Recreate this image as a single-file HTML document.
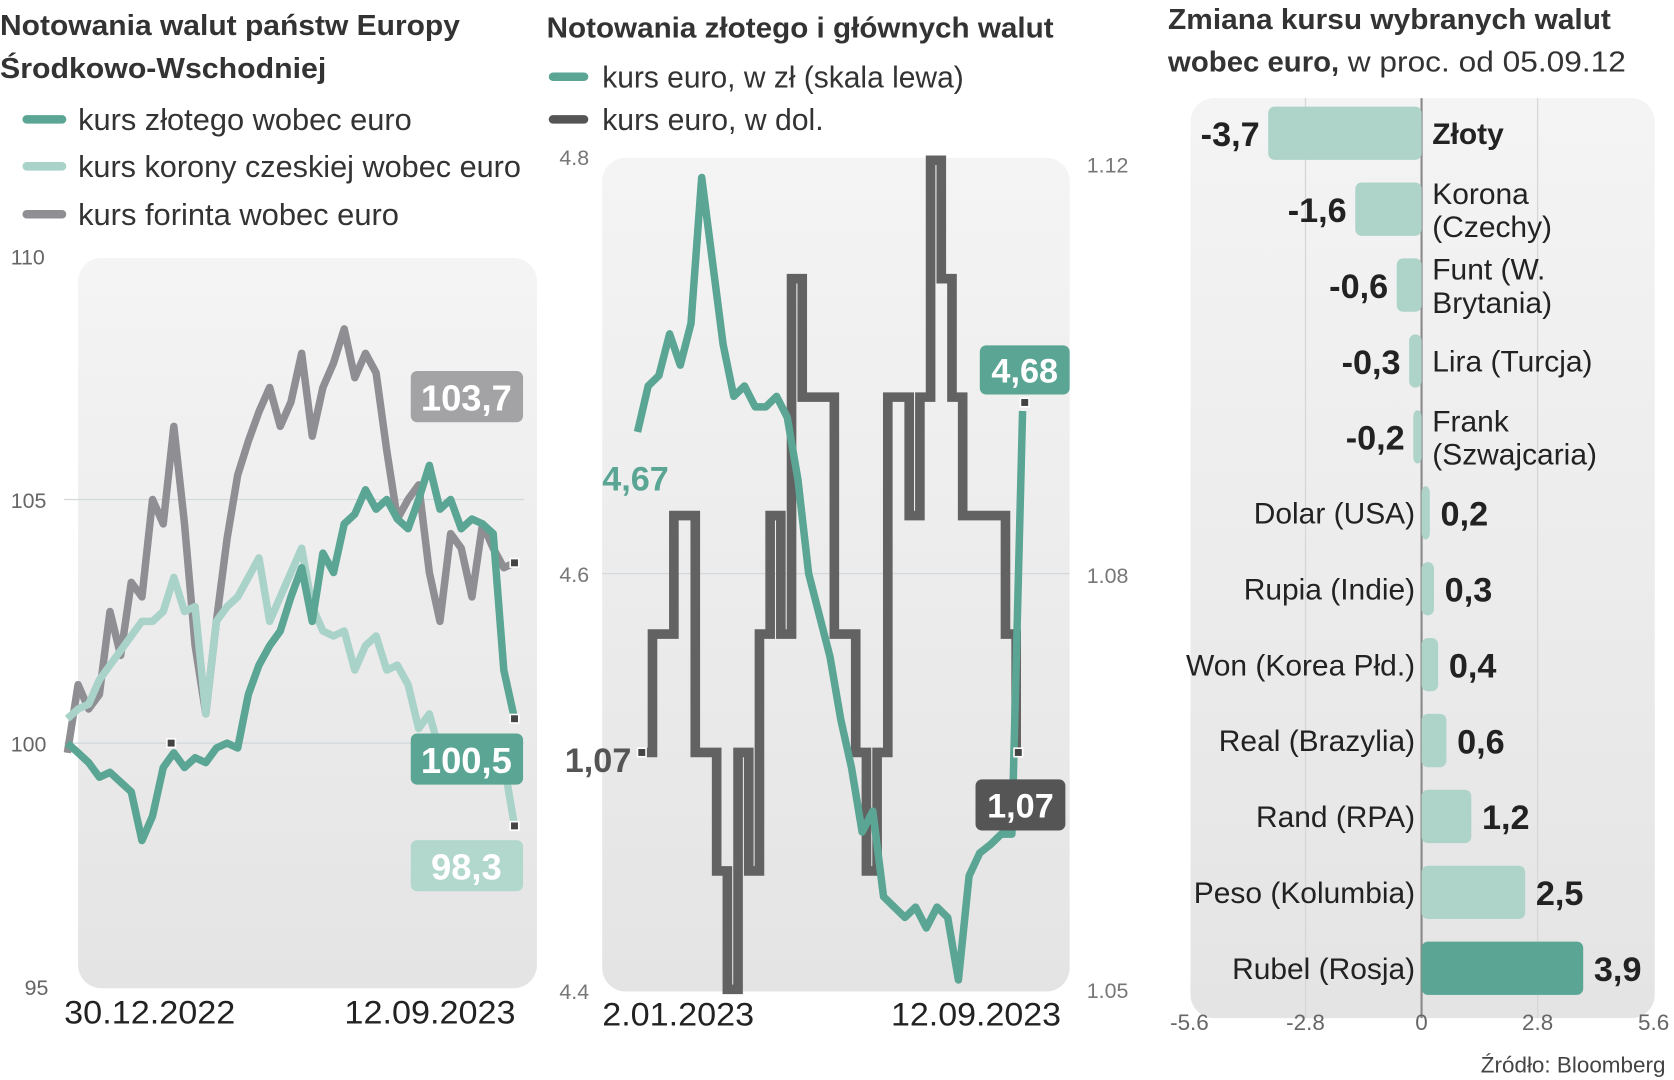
<!DOCTYPE html>
<html><head><meta charset="utf-8"><style>
html,body{margin:0;padding:0;background:#fff;}
svg{display:block;font-family:"Liberation Sans",sans-serif;}
</style></head><body>
<svg id="chart" width="1674" height="1080" viewBox="0 0 1565 1013" preserveAspectRatio="none" xmlns="http://www.w3.org/2000/svg">
<defs>
<linearGradient id="bg" x1="0" y1="0" x2="0" y2="1"><stop offset="0" stop-color="#f4f4f4"/><stop offset="1" stop-color="#e4e4e4"/></linearGradient>
</defs>
<!-- Panel 1 -->
<g>
<text x="0" y="33" font-size="27" font-weight="bold" fill="#333" textLength="430" lengthAdjust="spacingAndGlyphs">Notowania walut państw Europy</text>
<text x="0" y="73" font-size="27" font-weight="bold" fill="#333" textLength="305" lengthAdjust="spacingAndGlyphs">Środkowo-Wschodniej</text>
<g><line x1="25" y1="112" x2="58" y2="112" stroke="#5aa593" stroke-width="8" stroke-linecap="round"/><text x="73" y="122" font-size="29" fill="#333" textLength="312" lengthAdjust="spacingAndGlyphs">kurs złotego wobec euro</text></g>
<g><line x1="25" y1="156" x2="58" y2="156" stroke="#a9d3c8" stroke-width="8" stroke-linecap="round"/><text x="73" y="166" font-size="29" fill="#333" textLength="414" lengthAdjust="spacingAndGlyphs">kurs korony czeskiej wobec euro</text></g>
<g><line x1="25" y1="201" x2="58" y2="201" stroke="#8e8e93" stroke-width="8" stroke-linecap="round"/><text x="73" y="211" font-size="29" fill="#333" textLength="300" lengthAdjust="spacingAndGlyphs">kurs forinta wobec euro</text></g>
<rect x="73" y="242" width="429" height="685" rx="22" fill="url(#bg)"/>
<g id="p1ticks"></g>
<g id="p1lines"></g>
<text x="60" y="960" font-size="30" fill="#222" textLength="160" lengthAdjust="spacingAndGlyphs">30.12.2022</text>
<text x="322" y="960" font-size="30" fill="#222" textLength="160" lengthAdjust="spacingAndGlyphs">12.09.2023</text>
</g>
<!-- Panel 2 -->
<g>
<text x="511" y="35" font-size="27" font-weight="bold" fill="#333" textLength="474" lengthAdjust="spacingAndGlyphs">Notowania złotego i głównych walut</text>
<g><line x1="517" y1="72" x2="546" y2="72" stroke="#5aa593" stroke-width="8" stroke-linecap="round"/><text x="563" y="82" font-size="29" fill="#333" textLength="338" lengthAdjust="spacingAndGlyphs">kurs euro, w zł (skala lewa)</text></g>
<g><line x1="517" y1="112" x2="546" y2="112" stroke="#555" stroke-width="8" stroke-linecap="round"/><text x="563" y="122" font-size="29" fill="#333" textLength="207" lengthAdjust="spacingAndGlyphs">kurs euro, w dol.</text></g>
<rect x="563" y="148" width="437" height="782" rx="22" fill="url(#bg)"/>
<g id="p2ticks"></g>
<g id="p2lines"></g>
<text x="563" y="962" font-size="30" fill="#222" textLength="142" lengthAdjust="spacingAndGlyphs">2.01.2023</text>
<text x="833" y="962" font-size="30" fill="#222" textLength="159" lengthAdjust="spacingAndGlyphs">12.09.2023</text>
</g>
<!-- Panel 3 -->
<g>
<text x="1092" y="27" font-size="27" font-weight="bold" fill="#333" textLength="414" lengthAdjust="spacingAndGlyphs">Zmiana kursu wybranych walut</text>
<text x="1092" y="67" font-size="27" fill="#333"><tspan font-weight="bold" textLength="160" lengthAdjust="spacingAndGlyphs">wobec euro,</tspan><tspan x="1260" textLength="260" lengthAdjust="spacingAndGlyphs">w proc. od 05.09.12</tspan></text>
<rect x="1113" y="92" width="434" height="863" rx="22" fill="url(#bg)"/>
<g id="p3"></g>
<text x="1557" y="1006" font-size="21" fill="#444" text-anchor="end">Źródło: Bloomberg</text>
</g>
</svg>
<script>
// ---------- Panel 1 data ----------
const p1Ticks = [110, 105, 100, 95];
const zlotyValues = [100.0,99.8,99.6,99.3,99.4,99.2,99.0,98.0,98.5,99.5,99.8,99.5,99.7,99.6,99.9,100.0,99.9,101.0,101.6,102.0,102.3,103.0,103.6,102.5,103.9,103.5,104.5,104.7,105.2,104.8,105.0,104.6,104.4,105.0,105.7,104.8,105.0,104.4,104.6,104.5,104.3,101.5,100.5];
const forintValues = [99.8,101.2,100.7,101.0,102.7,101.8,103.3,103.0,105.0,104.5,106.5,104.5,102.0,100.6,102.5,104.2,105.5,106.2,106.8,107.3,106.5,107.0,108.0,106.3,107.3,107.8,108.5,107.5,108.0,107.6,106.0,104.6,105.0,105.3,103.5,102.5,104.3,104.0,103.0,104.5,104.0,103.6,103.7];
const korunaValues = [100.5,100.7,100.8,101.3,101.6,101.9,102.2,102.5,102.5,102.7,103.4,102.7,102.8,100.6,102.5,102.8,103.0,103.4,103.8,102.5,103.0,103.5,104.0,102.8,102.3,102.2,102.3,101.5,102.0,102.2,101.5,101.6,101.2,100.3,100.6,99.8,100.0,100.1,99.8,99.9,100.1,99.6,98.3];
const p1EndLabels = ["103,7", "100,5", "98,3"];

// ---------- Panel 2 data ----------
const p2LeftTicks = [4.8, 4.6, 4.4];
const p2RightTicks = [1.12, 1.08, 1.05];
const plnValues = [4.668,4.690,4.695,4.715,4.700,4.720,4.790,4.750,4.710,4.685,4.690,4.680,4.680,4.685,4.675,4.645,4.600,4.580,4.560,4.530,4.507,4.476,4.486,4.445,4.440,4.435,4.440,4.430,4.440,4.435,4.405,4.455,4.466,4.470,4.475,4.475,4.678];
const usdValues = [1.07,1.08,1.08,1.09,1.09,1.07,1.07,1.06,1.05,1.07,1.06,1.08,1.09,1.08,1.11,1.10,1.10,1.10,1.08,1.08,1.07,1.06,1.07,1.10,1.10,1.09,1.10,1.12,1.11,1.10,1.09,1.09,1.09,1.09,1.08,1.07];

// ---------- Panel 3 data ----------
const barNames = [["Złoty"],["Korona","(Czechy)"],["Funt (W.","Brytania)"],["Lira (Turcja)"],["Frank","(Szwajcaria)"],["Dolar (USA)"],["Rupia (Indie)"],["Won (Korea Płd.)"],["Real (Brazylia)"],["Rand (RPA)"],["Peso (Kolumbia)"],["Rubel (Rosja)"]];
const barValues = [-3.7,-1.6,-0.6,-0.3,-0.2,0.2,0.3,0.4,0.6,1.2,2.5,3.9];
const barTicks = [-5.6,-2.8,0,2.8,5.6];

const NS = "http://www.w3.org/2000/svg";
function mk(tag, attrs, parent, txt){const e=document.createElementNS(NS,tag);for(const k in attrs)e.setAttribute(k,attrs[k]);if(txt!==undefined)e.textContent=txt;parent.appendChild(e);return e;}
const fmt = v => String(v).replace('.', ',');

// Panel 1
const y1 = v => 697 - (v - 100) * 45.7;
const x1 = (i, n) => 63 + i * (481 - 63) / (n - 1);
const p1t = document.getElementById('p1ticks');
p1Ticks.forEach(t => {
  if (t === 105 || t === 100) {
    const g = mk('line', {x1:60, x2:490, y1:y1(t), y2:y1(t), stroke:'#d3d8dc', 'stroke-width':1.2}, p1t);
    
    
  }
  const tx = mk('text', {x:t===95?23:10, y:y1(t)+8, 'font-size':20, fill:'#666'}, p1t, String(t));
  
  
});
const p1l = document.getElementById('p1lines');
function linePath(vals, xf, yf){return vals.map((v,i)=>(i?'L':'M')+xf(i,vals.length).toFixed(1)+' '+yf(v).toFixed(1)).join(' ');}
[[forintValues,'#8e8e93','forint-line'],[korunaValues,'#a9d3c8','koruna-line'],[zlotyValues,'#5aa593','zloty-line']].forEach(([vals,col,name])=>{
  const p = mk('path', {d:linePath(vals,x1,y1), fill:'none', stroke:col, 'stroke-width':7, 'stroke-linejoin':'round'}, p1l);
  
  
});
function marker(g,x,y){const m=mk('rect',{x:x-4,y:y-4,width:8,height:8,fill:'#444',stroke:'#fff','stroke-width':1.5},g);}
marker(p1l, 160, y1(100));
[[forintValues,'#a3a3a6',348],[zlotyValues,'#5aa593',688],[korunaValues,'#b2d8ce',788]].forEach(([vals,col,by],k)=>{
  marker(p1l, 481, y1(vals[vals.length-1]));
  const r = mk('rect',{x:384,y:by,width:105,height:48,rx:6,fill:col},p1l);
  
  
  const t = mk('text',{x:436,y:by+37,'font-size':34,'font-weight':'bold',fill:'#fff','text-anchor':'middle'},p1l,p1EndLabels[k]);
  
  
});

// Panel 2
const yL = v => 147 + (4.8 - v) * 1955;
const yR = v => 928 - (v - 1.05) * 11110;
const xP = (i, n) => 596 + i * (956 - 596) / (n - 1);
const xU = (i, n) => 600 + i * (950 - 600) / (n - 1);
const p2t = document.getElementById('p2ticks');
const gl = mk('line',{x1:563,x2:1000,y1:538,y2:538,stroke:'#d3d8dc','stroke-width':1.2},p2t);


p2LeftTicks.forEach(t=>{
  const tx = mk('text',{x:523,y:yL(t)+8,'font-size':20,fill:'#777'},p2t,String(t));
  
  
});
const rPos = {1.12:162, 1.08:547, 1.05:936};
p2RightTicks.forEach(t=>{
  const tx = mk('text',{x:1016,y:rPos[t],'font-size':20,fill:'#777'},p2t,String(t));
  
  
});
const p2l = document.getElementById('p2lines');
let ud = '';
usdValues.forEach((v,i)=>{const x=xU(i,usdValues.length).toFixed(1), y=yR(v).toFixed(1); ud += i? ` H${x} V${y}` : `M${x} ${y}`;});
const up = mk('path',{d:ud,fill:'none',stroke:'#626262','stroke-width':9,'stroke-linejoin':'miter'},p2l);


const pp = mk('path',{d:linePath(plnValues,xP,yL),fill:'none',stroke:'#5aa593','stroke-width':7,'stroke-linejoin':'round'},p2l);


marker(p2l, 600, yR(usdValues[0]));
marker(p2l, 958, yL(plnValues[plnValues.length-1])-8);
marker(p2l, 952, yR(usdValues[usdValues.length-1]));
const s1 = mk('text',{x:563,y:460,'font-size':32,'font-weight':'bold',fill:'#5aa593'},p2l,fmt(plnValues[0].toFixed(2)));


const s2 = mk('text',{x:528,y:724,'font-size':32,'font-weight':'bold',fill:'#555'},p2l,fmt(usdValues[0].toFixed(2)));


const b1 = mk('rect',{x:916,y:324,width:84,height:46,rx:6,fill:'#5aa593'},p2l);


const e1 = mk('text',{x:958,y:359,'font-size':32,'font-weight':'bold',fill:'#fff','text-anchor':'middle'},p2l,fmt(plnValues[plnValues.length-1].toFixed(2)));


const b2 = mk('rect',{x:912,y:731,width:84,height:48,rx:6,fill:'#555'},p2l);


const e2 = mk('text',{x:954,y:767,'font-size':32,'font-weight':'bold',fill:'#fff','text-anchor':'middle'},p2l,fmt(usdValues[usdValues.length-1].toFixed(2)));



// Panel 3
const p3 = document.getElementById('p3');
const xB = v => 1329 + v * 38.75;
barTicks.forEach(t=>{
  if (t !== -5.6 && t !== 5.6) {
    const l = mk('line',{x1:xB(t),x2:xB(t),y1:92,y2:955,stroke:t===0?'#8a8a8a':'#d6d6d6','stroke-width':t===0?2:1.2},p3);
    
    
  }
  const tx = mk('text',{x:xB(t),y:966,'font-size':21,fill:'#666','text-anchor':'middle'},p3,String(t));
  
  
});
barValues.forEach((v,i)=>{
  const cy = 125 + i * 71.2;
  const x0 = Math.min(xB(0), xB(v)), w = Math.max(Math.abs(xB(v)-xB(0)), 4);
  const r = mk('rect',{x:x0,y:cy-25,width:w,height:50,rx:6,fill:i===barValues.length-1?'#5aa593':'#aed4ca'},p3);
  
  
  const vt = mk('text',{x:v<0?xB(v)-8:xB(v)+10,y:cy+12,'font-size':32,'font-weight':'bold',fill:'#222','text-anchor':v<0?'end':'start'},p3,fmt(v));
  
  
  const lines = barNames[i];
  const nx = v<0 ? 1339 : xB(0)-6;
  lines.forEach((s,k)=>{
    const ny = lines.length===1 ? cy+10 : cy-5 + (k*31);
    const nt = mk('text',{x:nx,y:ny,'font-size':28,fill:'#222','font-weight':i===0?'bold':'normal','text-anchor':v<0?'start':'end'},p3,s);
    
    
  });
});
</script>
</body></html>
